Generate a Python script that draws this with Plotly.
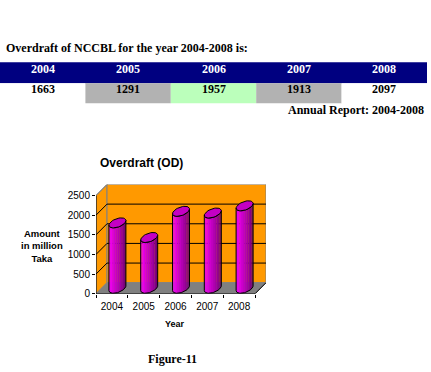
import math
import plotly.graph_objects as go

years = ["2004", "2005", "2006", "2007", "2008"]
overdraft = [1663, 1291, 1957, 1913, 2097]
table_fill = ["#ffffff", "#b2b2b2", "#bbffbb", "#b2b2b2", "#ffffff"]
y_ticks = [0, 500, 1000, 1500, 2000, 2500]

W, H = 431, 378
YS = 1.016
SERIF = "Liberation Serif"
SANS = "Liberation Sans"

# plot geometry (px)
L, R, B, T = 96, 266, 293, 184
DEPTH = 11
CAT_PX = 31.8
UNIT_PX = 98 / 2500
dx = DEPTH / CAT_PX
dy = DEPTH / UNIT_PX
x_lo, x_hi = -0.5, 4.5 + dx
y_lo, y_hi = 0, 2500 + dy

fig = go.Figure()

def poly(xs, ys, fill=None, line=None, lw=1):
    fig.add_trace(go.Scatter(
        x=xs, y=ys, mode="lines", showlegend=False, hoverinfo="skip",
        fill="toself" if fill else "none", fillcolor=fill,
        line=dict(color=line or fill, width=lw if line else 0),
        xaxis="x", yaxis="y"))

WALL = "#ff9900"
EDGE = "#808080"
xl, xr = -0.5, 4.5
poly([xl, xl + dx, xl + dx, xl, xl], [0, dy, 2500 + dy, 2500, 0], WALL, EDGE)
poly([xl + dx, xr + dx, xr + dx, xl + dx, xl + dx], [dy, dy, 2500 + dy, 2500 + dy, dy], WALL, EDGE)
poly([xl, xr, xr + dx, xl + dx, xl], [0, 0, dy, dy, 0], EDGE, EDGE)

gx, gy = [], []
for t in y_ticks[1:-1]:
    gx += [xl, xl + dx, xr + dx, None]
    gy += [t, t + dy, t + dy, None]
poly(gx, gy, None, "#000000", 1)
poly([xl, xl + dx], [2500, 2500 + dy], None, EDGE, 1)
poly([xl, xl], [0, 2500], None, "#000000", 1)
poly([xl, xr, xr + dx], [0, 0, dy], None, "#000000", 1)

A = 7.5
BX, BY = 4.0, 5.0
SLICES = 14
th0 = math.atan2(BX, A)

def shade(f):
    stops = [(0, (208, 0, 208)), (0.22, (240, 0, 240)), (0.55, (176, 0, 176)), (1, (80, 0, 80))]
    for (a, ca), (b, cb) in zip(stops, stops[1:]):
        if f <= b:
            k = (f - a) / (b - a)
            return "rgb(%d,%d,%d)" % tuple(round(p + (q - p) * k) for p, q in zip(ca, cb))
    return "rgb(80,0,80)"

def pt(i, value, th):
    cx = i + dx / 2 + (A * math.cos(th) + BX * math.sin(th)) / CAT_PX
    cy = value + dy / 2 + (BY * math.sin(th)) / UNIT_PX
    return cx, cy

for s in range(SLICES):
    xs, ys = [], []
    t1 = th0 - math.pi + math.pi * s / SLICES
    t2 = th0 - math.pi + math.pi * (s + 1.15) / SLICES
    for i, v in enumerate(overdraft):
        for val, th in [(0, t1), (0, t2), (v, t2), (v, t1), (0, t1)]:
            px, py = pt(i, val, th)
            xs.append(px); ys.append(py)
        xs.append(None); ys.append(None)
    poly(xs, ys, shade((s + 0.5) / SLICES))

for i, v in enumerate(overdraft):
    steps = 40
    ox, oy = [], []
    for k in range(steps + 1):
        px, py = pt(i, 0, th0 - math.pi + math.pi * k / steps)
        ox.append(px); oy.append(py)
    for k in range(steps + 1):
        px, py = pt(i, v, th0 - math.pi * k / steps)
        ox.append(px); oy.append(py)
    ox.append(ox[0]); oy.append(oy[0])
    poly(ox, oy, None, "#000000", 1)
    ex, ey = zip(*[pt(i, v, 2 * math.pi * k / steps) for k in range(steps + 1)])
    poly(list(ex), list(ey), "#c400c4", "#000000", 1)

def note(text, x, y, family, size, anchor="center", color="#000000"):
    fig.add_annotation(text=text, x=x / W, y=1 - y * YS / H, xref="paper", yref="paper",
                       showarrow=False, xanchor=anchor, yanchor="middle", borderpad=0, borderwidth=0,
                       font=dict(family=family, size=size, color=color))

def band(x0, x1, y0, y1, color):
    fig.add_shape(type="rect", xref="paper", yref="paper", x0=x0 / W, x1=x1 / W,
                  y0=1 - y1 * YS / H, y1=1 - y0 * YS / H, fillcolor=color, line_width=0, layer="below")

# table
COL = 85.4
band(0, 5 * COL, 62, 83, "#000080")
for i, (y, v, c) in enumerate(zip(years, overdraft, table_fill)):
    band(i * COL, (i + 1) * COL, 83, 103, c)
    note("<b>%s</b>" % y, (i + 0.5) * COL, 69, SERIF, 12, color="#ffffff")
    note("<b>%d</b>" % v, (i + 0.5) * COL, 89, SERIF, 12)

note("<b>Overdraft of NCCBL for the year 2004-2008 is:</b>", 6, 48, SERIF, 12, "left")
note("<b>Annual Report: 2004-2008</b>", 424, 110, SERIF, 12, "right")
note("<b>Overdraft (OD)</b>", 141, 163, SANS, 12)
note("<b>Amount<br>in million<br>Taka</b>", 42, 245, SANS, 9.5)
note("<b>Year</b>", 175, 323, SANS, 9)
note("<b>Figure-11</b>", 172, 358, SERIF, 12)

fig.update_layout(
    width=W, height=H, margin=dict(l=0, r=0, t=0, b=0), autosize=False,
    paper_bgcolor="#ffffff", plot_bgcolor="#ffffff", showlegend=False,
    xaxis=dict(domain=[L / W, R / W], range=[x_lo, x_hi], tickvals=list(range(5)), ticktext=years,
               showgrid=False, zeroline=False, showline=False, ticks="", ticklen=0, ticklabelstandoff=5,
               minor=dict(tickvals=[k - 0.5 for k in range(6)], ticks="outside", ticklen=3, tickcolor="#000000"),
               tickfont=dict(family=SANS, size=10, color="#000000"), tickprefix="<b>", ticksuffix="</b>"),
    yaxis=dict(domain=[1 - B * YS / H, 1 - T * YS / H], range=[y_lo, y_hi], tickvals=y_ticks,
               showgrid=False, zeroline=False, showline=False, ticks="outside", ticklen=3,
               tickcolor="#000000", tickfont=dict(family=SANS, size=10, color="#000000"),
               tickprefix="<b>", ticksuffix="</b>"),
)

fig.write_html("out.html", config={"displayModeBar": False},
               post_script="document.documentElement.style.overflow='hidden';document.body.style.margin='0';document.body.style.overflow='hidden';")
